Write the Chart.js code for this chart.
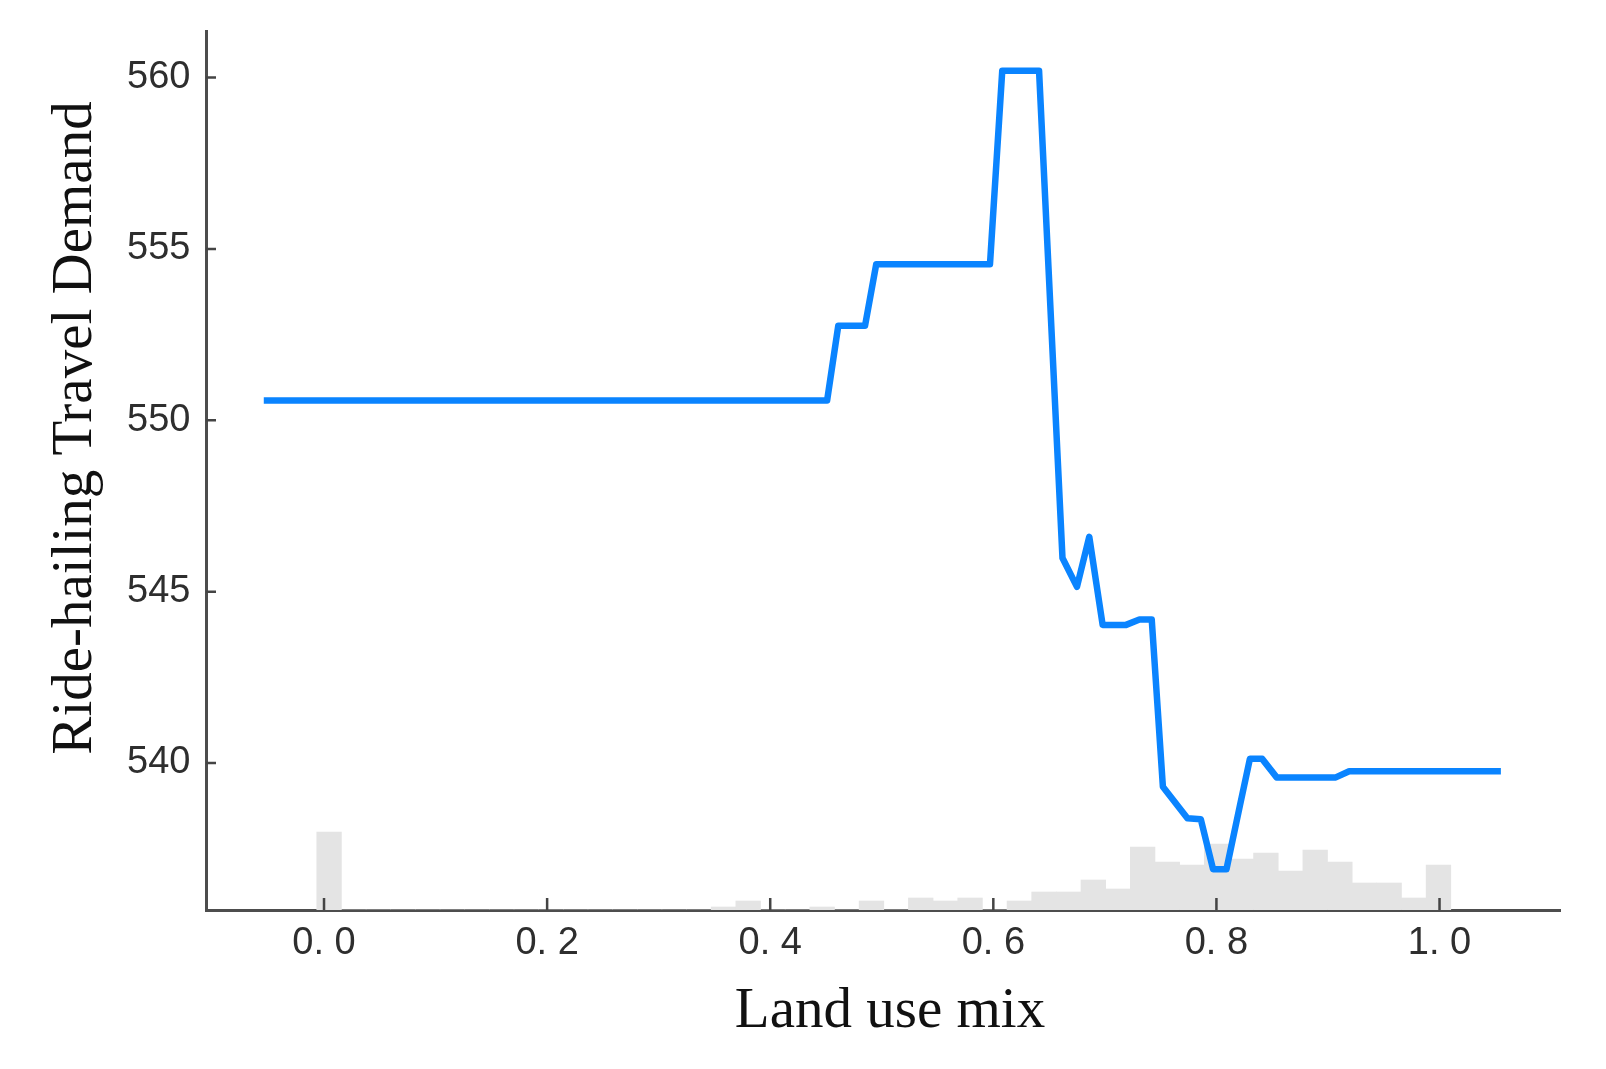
<!DOCTYPE html>
<html>
<head>
<meta charset="utf-8">
<title>Land use mix - partial dependence</title>
<script src="https://cdn.jsdelivr.net/npm/chart.js@4.4.1/dist/chart.umd.min.js"></script>
<style>
    html, body { margin: 0; padding: 0; background: #fff; }
    #wrap { width: 1606px; height: 1069px; position: relative; }
</style>
</head>
<body>
<div id="wrap"><canvas id="pdpChart"></canvas></div>
<script>
// Partial dependence curve (land use mix -> ride-hailing demand)
const lineX = [-0.054, 0.451, 0.461, 0.485, 0.495, 0.597, 0.608, 0.641, 0.649, 0.662,
               0.675, 0.686, 0.698, 0.719, 0.731, 0.742, 0.752, 0.774, 0.786, 0.797,
               0.809, 0.821, 0.830, 0.841, 0.854, 0.907, 0.919, 1.055];
const lineY = [550.58, 550.58, 552.76, 552.76, 554.55, 554.55, 560.2, 560.2, 554.76, 545.98,
               545.14, 546.60, 544.03, 544.03, 544.19, 544.19, 539.31, 538.39, 538.36, 536.90,
               536.90, 538.75, 540.12, 540.12, 539.58, 539.58, 539.76, 539.76];

// Histogram of observed land use mix values (grey bars)
const histStart = -0.0065;
const histWidth = 0.0221;
const histCounts = [26, 0, 0, 0, 0, 0, 0, 0, 0, 0,
                    0, 0, 0, 0, 0, 0, 1, 3, 0, 0,
                    1, 0, 3, 0, 4, 3, 4, 0, 3, 6,
                    6, 10, 7, 21, 16, 15, 22, 17, 19, 13,
                    20, 16, 9, 9, 4, 15];

// Axes
const xTickValues = [0, 0.2, 0.4, 0.6, 0.8, 1.0];
const yTickValues = [540, 545, 550, 555, 560];
const xRange = [-0.1058, 1.108];
const yRange = [535.71, 561.36];
const histMax = 293;
const xTitle = 'Land use mix';
const yTitle = 'Ride-hailing Travel Demand';

const linePoints = lineX.map((x, i) => ({ x: x, y: lineY[i] }));
const histPoints = histCounts.map((c, i) => ({ x: histStart + histWidth * (i + 0.5), y: c }));

const sansFont = "'Liberation Sans', Arial, sans-serif";
const serifFont = "'Liberation Serif', 'Times New Roman', serif";

// Inward tick marks and the two axis titles (both sit a little off the axis centre)
const axisDecor = {
    id: 'axisDecor',
    afterDatasetsDraw(chart) {
        const { ctx, chartArea, scales } = chart;
        ctx.save();
        ctx.strokeStyle = '#444';
        ctx.lineWidth = 2.5;
        ctx.beginPath();
        xTickValues.forEach(v => {
            const px = scales.x.getPixelForValue(v);
            ctx.moveTo(px, chartArea.bottom);
            ctx.lineTo(px, chartArea.bottom - 12);
        });
        yTickValues.forEach(v => {
            const py = scales.y.getPixelForValue(v);
            ctx.moveTo(chartArea.left, py);
            ctx.lineTo(chartArea.left + 10, py);
        });
        ctx.stroke();
        ctx.restore();
    },
    afterDraw(chart) {
        const ctx = chart.ctx;
        ctx.save();
        ctx.font = '57px ' + serifFont;
        ctx.fillStyle = '#111';
        ctx.textAlign = 'center';
        ctx.textBaseline = 'middle';
        ctx.fillText(xTitle, 890, 1012);
        ctx.translate(76, 428);
        ctx.rotate(-Math.PI / 2);
        ctx.fillText(yTitle, 0, 0);
        ctx.restore();
    }
};

new Chart(document.getElementById('pdpChart'), {
    type: 'line',
    data: {
        datasets: [
            {
                type: 'line',
                label: yTitle,
                data: linePoints,
                borderColor: '#0a84ff',
                borderWidth: 6.5,
                borderJoinStyle: 'round',
                pointRadius: 0,
                tension: 0,
                yAxisID: 'y',
                order: 0
            },
            {
                type: 'bar',
                label: 'Distribution',
                data: histPoints,
                backgroundColor: '#e4e4e4',
                borderWidth: 0,
                barPercentage: 1,
                categoryPercentage: 1,
                yAxisID: 'y2',
                order: 1
            }
        ]
    },
    options: {
        responsive: true,
        maintainAspectRatio: false,
        animation: false,
        layout: { padding: { top: 31, right: 46, left: 0, bottom: 0 } },
        plugins: {
            legend: { display: false },
            tooltip: { enabled: false }
        },
        scales: {
            x: {
                type: 'linear',
                min: xRange[0],
                max: xRange[1],
                offset: false,
                z: 1,
                grid: { display: false },
                border: { display: true, color: '#4d4d4d', width: 3 },
                afterBuildTicks: scale => { scale.ticks = xTickValues.map(v => ({ value: v })); },
                afterFit: scale => { scale.height = 159; },
                ticks: {
                    padding: 3,
                    color: '#2e2e2e',
                    font: { family: sansFont, size: 38 },
                    callback: v => v.toFixed(1).replace('.', '. ')
                }
            },
            y: {
                type: 'linear',
                min: yRange[0],
                max: yRange[1],
                z: 1,
                grid: { display: false },
                border: { display: true, color: '#4d4d4d', width: 3 },
                afterBuildTicks: scale => { scale.ticks = yTickValues.map(v => ({ value: v })); },
                afterFit: scale => { scale.width = 206; },
                ticks: {
                    padding: 7.5,
                    color: '#2e2e2e',
                    font: { family: sansFont, size: 38 },
                    callback: v => String(v)
                }
            },
            y2: {
                type: 'linear',
                display: false,
                min: 0,
                max: histMax
            }
        }
    },
    plugins: [axisDecor]
});
</script>
</body>
</html>
